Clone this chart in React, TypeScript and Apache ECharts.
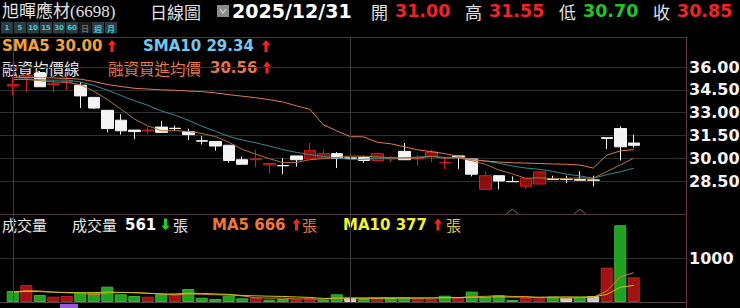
import React, { useEffect, useRef } from "react";
import * as echarts from "echarts";

// ---------- data ----------
const STOCK_NAME = "旭暉應材(6698)";
const PERIOD_LABEL = "日線圖";
const DATE_LABEL = "2025/12/31";
const PERIOD_BUTTONS = ["1", "5", "10", "15", "30", "60", "日", "週", "月"];
const ACTIVE_BUTTON = "日";

const DATES = [
  "2025/10/27", "2025/10/28", "2025/10/29", "2025/10/30", "2025/10/31",
  "2025/11/03", "2025/11/04", "2025/11/05", "2025/11/06", "2025/11/07",
  "2025/11/10", "2025/11/11", "2025/11/12", "2025/11/13", "2025/11/14",
  "2025/11/17", "2025/11/18", "2025/11/19", "2025/11/20", "2025/11/21",
  "2025/11/24", "2025/11/25", "2025/11/26", "2025/11/27", "2025/11/28",
  "2025/12/01", "2025/12/02", "2025/12/03", "2025/12/04", "2025/12/05",
  "2025/12/08", "2025/12/09", "2025/12/10", "2025/12/11", "2025/12/12",
  "2025/12/15", "2025/12/16", "2025/12/17", "2025/12/18", "2025/12/19",
  "2025/12/22", "2025/12/23", "2025/12/24", "2025/12/26", "2025/12/29",
  "2025/12/30", "2025/12/31",
];

const OPEN = [
  34.75, 35.3, 35.6, 34.85, 35.0, 34.8, 34.0, 33.15, 32.5, 31.85,
  31.8, 32.05, 31.97, 31.75, 31.15, 31.1, 30.85, 29.9, 29.9, 29.55,
  29.52, 30.15, 29.95, 30.0, 30.3, 30.02, 30.05, 29.85, 29.95, 30.45,
  29.95, 30.1, 29.7, 30.15, 29.95, 27.95, 28.85, 28.47, 28.15, 28.3,
  28.65, 28.62, 28.6, 28.57, 31.35, 31.95, 31.0,
];
const CLOSE = [
  34.85, 35.45, 34.7, 34.9, 35.05, 34.1, 33.3, 31.95, 31.8, 31.75,
  31.85, 31.7, 31.95, 31.55, 31.12, 30.8, 29.85, 29.6, 29.95, 29.65,
  29.5, 29.9, 30.5, 30.3, 30.0, 30.0, 29.85, 30.3, 30.0, 29.9,
  30.0, 30.4, 29.72, 30.1, 28.95, 28.85, 28.5, 28.45, 28.65, 29.1,
  28.6, 28.6, 28.55, 28.55, 31.3, 30.75, 30.85,
];
const LOW = [
  34.15, 34.35, 34.7, 34.35, 34.5, 33.3, 33.25, 31.7, 31.55, 31.25,
  31.6, 31.7, 31.8, 31.2, 30.9, 30.5, 29.7, 29.6, 29.4, 29.0,
  28.95, 29.45, 29.95, 30.0, 29.35, 29.75, 29.7, 29.8, 29.75, 29.9,
  29.5, 29.75, 29.3, 29.3, 28.8, 27.95, 27.95, 28.45, 28.0, 28.3,
  28.6, 28.35, 28.55, 28.15, 30.6, 29.85, 30.7,
];
const HIGH = [
  35.35, 35.6, 35.75, 35.15, 35.5, 35.0, 34.0, 33.15, 32.9, 31.85,
  32.05, 32.45, 32.15, 31.95, 31.45, 31.1, 30.85, 30.1, 30.55, 29.7,
  30.0, 30.15, 31.0, 30.55, 30.4, 30.15, 30.15, 30.35, 30.15, 31.0,
  30.2, 30.55, 30.1, 30.15, 29.95, 29.1, 28.85, 28.8, 28.65, 29.1,
  28.85, 28.85, 29.15, 28.85, 31.35, 32.1, 31.55,
];
// volume (張)
const VOLUME = [
  250, 386, 160, 120, 136, 197, 212, 348, 175, 136,
  120, 175, 190, 295, 98, 68, 143, 84, 90, 53,
  68, 60, 84, 53, 175, 90, 68, 98, 90, 106,
  84, 68, 143, 90, 235, 106, 152, 45, 90, 84,
  122, 98, 114, 130, 780, 1745, 561,
];
// 融資買進均價
const MARGIN_AVG = [
  35.32, 35.32, 35.3, 35.28, 35.25, 35.2, 35.05, 34.85, 34.72, 34.6,
  34.55, 34.5, 34.47, 34.42, 34.38, 34.3, 34.18, 34.08, 33.98, 33.85,
  33.7, 33.45, 33.22, 32.2, 31.8, 31.42, 31.4, 31.05, 30.95, 30.75,
  30.55, 30.43, 30.3, 30.12, 29.9, 29.82, 29.75, 29.7, 29.68, 29.65,
  29.62, 29.6, 29.55, 29.35, 30.2, 30.48, 30.56,
];
// estimated sessions before the visible window (feed the moving averages)
const PREV_CLOSES = [35.0, 35.3, 35.2, 34.9, 35.4, 35.5, 35.1, 35.3, 35.2];
const PREV_VOLUMES = [230, 210, 260, 190, 240, 220, 200, 250, 210];

const PRICE_MIN = 28.5;
const PRICE_MAX = 36;
const PRICE_STEP = 1.5;
const VOL_MIN = 0;
const VOL_MAX = 2000;
const VOL_STEP = 1000;
const VOL_LABELS = [1000];

const MONTH_LINES = [DATES[0], DATES[25]];
const EVENT_DATES = [DATES[37], DATES[42]];

// ---------- layout ----------
const W = 740;
const H = 308;
const MAIN_TOP = 37;
const MAIN_BOTTOM = 214;
const PRICE_MAX_Y = 67;
const PRICE_MIN_Y = 181;
const VOL_TOP = 214;
const VOL_BOTTOM = 302;
const AXIS_X = 687;
const PLOT_LEFT = 6;
const BAND = 13.5;

const C_RED_TXT = "#f02424";
const C_GREEN_TXT = "#22c822";
const C_WHITE = "#ececec";
const NUM_FONT = '"DejaVu Sans"';
const CJK_FONT = '"Noto Sans CJK TC"';

function movingAverage(prev: number[], vals: number[], n: number) {
  const all = prev.concat(vals);
  return vals.map((_, i) => {
    const end = prev.length + i;
    let s = 0;
    for (let k = end - n + 1; k <= end; k++) s += all[k];
    return s / n;
  });
}

function arrow(cx: number, top: number, up: boolean, color: string) {
  const h = 12, hw = 4, sw = 1.5, head = 5;
  const pts = up
    ? [[cx, top], [cx + hw, top + head], [cx + sw, top + head], [cx + sw, top + h], [cx - sw, top + h], [cx - sw, top + head], [cx - hw, top + head]]
    : [[cx, top + h], [cx + hw, top + h - head], [cx + sw, top + h - head], [cx + sw, top], [cx - sw, top], [cx - sw, top + h - head], [cx - hw, top + h - head]];
  return { type: "polygon", silent: true, shape: { points: pts }, style: { fill: color } };
}

function txt(x: number, y: number, text: string, fill: string, font: string, vAlign = "middle") {
  return {
    type: "text",
    x,
    y,
    silent: true,
    style: { text, fill, font, textAlign: "left", textVerticalAlign: vAlign },
  };
}

export default function App() {
  const ref = useRef<HTMLDivElement>(null);

  useEffect(() => {
    if (!ref.current) return;
    document.body.style.margin = "0";
    document.body.style.background = "#000";
    const chart = echarts.init(ref.current, undefined, { renderer: "svg" });

    const n = DATES.length;
    const last = n - 1;
    const sma5 = movingAverage(PREV_CLOSES, CLOSE, 5);
    const sma10 = movingAverage(PREV_CLOSES, CLOSE, 10);
    const vma5 = movingAverage(PREV_VOLUMES, VOLUME, 5);
    const vma10 = movingAverage(PREV_VOLUMES, VOLUME, 10);

    const prevCloseOf = (i: number) => (i === 0 ? PREV_CLOSES[PREV_CLOSES.length - 1] : CLOSE[i - 1]);
    const volColor = (i: number) => {
      const c = CLOSE[i], p = prevCloseOf(i);
      return c > p ? "#a21212" : c < p ? "#1fa21f" : "#c8c8c8";
    };
    const volBorder = (i: number) => {
      const c = CLOSE[i], p = prevCloseOf(i);
      return c > p ? "#c02020" : c < p ? "#34b834" : "#dcdcdc";
    };

    const ppu = (PRICE_MIN_Y - PRICE_MAX_Y) / (PRICE_MAX - PRICE_MIN);
    const yMaxB = PRICE_MAX + (PRICE_MAX_Y - MAIN_TOP) / ppu;
    const yMinB = PRICE_MIN - (MAIN_BOTTOM - PRICE_MIN_Y) / ppu;
    const plotWidth = BAND * n;

    const lastPrev = CLOSE[last - 1];
    const pxColor = (v: number) => (v > lastPrev ? C_RED_TXT : v < lastPrev ? C_GREEN_TXT : C_WHITE);
    const upDown = (arr: number[]) => arr[last] >= arr[last - 1];

    const vertLines = {
      silent: true,
      symbol: ["none", "none"],
      label: { show: false },
      lineStyle: { color: "#3c3c3c", type: "solid", width: 1 },
      emphasis: { disabled: true },
      data: MONTH_LINES.map((d) => ({ xAxis: d })),
    };

    const graphics: any[] = [];
    // header
    graphics.push(txt(2, 11, STOCK_NAME, "#e2e2e2", `17px "Liberation Serif", ${CJK_FONT}`));
    graphics.push(txt(150, 11, PERIOD_LABEL, "#e2e2e2", `17px ${CJK_FONT}`));
    graphics.push({ type: "rect", silent: true, shape: { x: 217, y: 5, width: 12, height: 12 }, style: { fill: "#8a8a8a" } });
    graphics.push({ type: "polyline", silent: true, shape: { points: [[220, 9], [223, 13], [226, 9]] }, style: { stroke: "#d8d8d8", lineWidth: 1.2, fill: null } });
    graphics.push(txt(232, 11, DATE_LABEL, "#ffffff", `bold 19px ${NUM_FONT}`));
    const ohlc: [string, number, number][] = [
      ["開", OPEN[last], 371],
      ["高", HIGH[last], 465],
      ["低", LOW[last], 559],
      ["收", CLOSE[last], 653],
    ];
    ohlc.forEach(([lab, v, x]) => {
      graphics.push(txt(x, 11, lab, "#e2e2e2", `17px ${CJK_FONT}`));
      graphics.push(txt(x + 24, 11, v.toFixed(2), pxColor(v), `bold 17.5px ${NUM_FONT}`));
    });
    // period buttons
    PERIOD_BUTTONS.forEach((b, i) => {
      const x = 1 + i * 13;
      const active = b === ACTIVE_BUTTON;
      graphics.push({ type: "rect", silent: true, shape: { x, y: 22, width: 12, height: 11.5 }, style: { fill: active ? "#1e1e1e" : "#2a3d42" } });
      graphics.push({
        type: "text", silent: true, x: x + 6, y: 28,
        style: {
          text: b, fill: active ? "#6a6a6a" : "#3ccacc",
          font: /\d/.test(b) ? `bold 7px ${NUM_FONT}` : `bold 8px ${CJK_FONT}`,
          textAlign: "center", textVerticalAlign: "middle",
        },
      });
    });
    // price legend
    const s5 = `SMA5 ${sma5[last].toFixed(2)}`;
    const s10 = `SMA10 ${sma10[last].toFixed(2)}`;
    graphics.push(txt(2, 46, s5, "#f0a232", `bold 15px ${NUM_FONT}`));
    graphics.push(arrow(112, 40, upDown(sma5), upDown(sma5) ? "#ff2020" : "#20d020"));
    graphics.push(txt(143, 46, s10, "#72c8f0", `bold 15px ${NUM_FONT}`));
    graphics.push(arrow(266, 40, upDown(sma10), upDown(sma10) ? "#ff2020" : "#20d020"));
    graphics.push(txt(2, 67.5, "融資均價線", "#e6e6e6", `15.5px ${CJK_FONT}`));
    graphics.push(txt(108, 67.5, "融資買進均價", "#e8784a", `15.5px ${CJK_FONT}`));
    graphics.push(txt(210, 67.5, MARGIN_AVG[last].toFixed(2), "#e8784a", `bold 15px ${NUM_FONT}`));
    graphics.push(arrow(267, 61.5, upDown(MARGIN_AVG), upDown(MARGIN_AVG) ? "#ff2020" : "#20d020"));
    // volume legend
    const vUp = VOLUME[last] >= VOLUME[last - 1];
    graphics.push(txt(2, 224.5, "成交量", "#e6e6e6", `15px ${CJK_FONT}`));
    graphics.push(txt(72, 224.5, "成交量", "#e6e6e6", `15px ${CJK_FONT}`));
    graphics.push(txt(125, 224.5, String(VOLUME[last]), "#ffffff", `bold 15px ${NUM_FONT}`));
    graphics.push(arrow(165.5, 218.5, vUp, vUp ? "#ff2020" : "#20d020"));
    graphics.push(txt(173, 224.5, "張", "#e6e6e6", `15px ${CJK_FONT}`));
    graphics.push(txt(212, 224.5, `MA5 ${Math.round(vma5[last])}`, "#f07a30", `bold 15px ${NUM_FONT}`));
    graphics.push(arrow(296.5, 218.5, upDown(vma5), upDown(vma5) ? "#ff2020" : "#20d020"));
    graphics.push(txt(302, 224.5, "張", "#e07a3a", `15px ${CJK_FONT}`));
    graphics.push(txt(343, 224.5, `MA10 ${Math.round(vma10[last])}`, "#f2f224", `bold 15px ${NUM_FONT}`));
    graphics.push(arrow(438, 218.5, upDown(vma10), upDown(vma10) ? "#ff2020" : "#20d020"));
    graphics.push(txt(446, 224.5, "張", "#d8c84a", `15px ${CJK_FONT}`));
    // swatch of the next panel's legend (clipped at page bottom)
    graphics.push({ type: "rect", silent: true, shape: { x: 60, y: 304, width: 18, height: 10 }, style: { fill: "#9a58d8" } });
    // borders
    const ln = (x1: number, y1: number, x2: number, y2: number, c: string) => ({
      type: "line", silent: true, shape: { x1, y1, x2, y2 }, style: { stroke: c, lineWidth: 1 }, z: 10,
    });
    graphics.push(ln(0, MAIN_TOP + 0.5, AXIS_X, MAIN_TOP + 0.5, "#5c2a38"));
    graphics.push(ln(0, VOL_TOP + 0.5, AXIS_X, VOL_TOP + 0.5, "#4e3440"));
    graphics.push(ln(0, VOL_BOTTOM + 0.5, AXIS_X, VOL_BOTTOM + 0.5, "#55454c"));
    graphics.push(ln(AXIS_X - 0.5, MAIN_TOP, AXIS_X - 0.5, H, "#6a3042"));

    const hiddenCat = (gi: number) => ({
      gridIndex: gi, type: "category", data: DATES, boundaryGap: true,
      axisLine: { show: false }, axisTick: { show: false }, axisLabel: { show: false }, splitLine: { show: false },
    });
    const hiddenVal = (gi: number) => ({ gridIndex: gi, type: "value", min: 0, max: 1, show: false, splitLine: { show: false } });

    const option: any = {
      animation: false,
      backgroundColor: "#000000",
      grid: [
        { left: 0, top: PRICE_MAX_Y, width: AXIS_X, height: PRICE_MIN_Y - PRICE_MAX_Y, outerBoundsMode: "none" },
        { left: PLOT_LEFT, top: MAIN_TOP, width: plotWidth, height: MAIN_BOTTOM - MAIN_TOP, outerBoundsMode: "none" },
        { left: 0, top: VOL_TOP, width: AXIS_X, height: VOL_BOTTOM - VOL_TOP, outerBoundsMode: "none" },
        { left: PLOT_LEFT, top: VOL_TOP, width: plotWidth, height: VOL_BOTTOM - VOL_TOP, outerBoundsMode: "none" },
      ],
      xAxis: [hiddenVal(0), hiddenCat(1), hiddenVal(2), hiddenCat(3)],
      yAxis: [
        {
          gridIndex: 0, type: "value", position: "right", min: PRICE_MIN, max: PRICE_MAX, interval: PRICE_STEP,
          axisLine: { show: false }, axisTick: { show: false },
          splitLine: { show: true, lineStyle: { color: "#2e2e2e", width: 1 } },
          axisLabel: {
            show: true, margin: 2, showMinLabel: true, showMaxLabel: true,
            color: "#f4f4f4", fontFamily: "DejaVu Sans", fontWeight: "bold", fontSize: 16,
            formatter: (v: number) => v.toFixed(2),
          },
        },
        { gridIndex: 1, type: "value", min: yMinB, max: yMaxB, show: false, splitLine: { show: false } },
        {
          gridIndex: 2, type: "value", position: "right", min: VOL_MIN, max: VOL_MAX, interval: VOL_STEP,
          axisLine: { show: false }, axisTick: { show: false },
          splitLine: { show: true, lineStyle: { color: "#2e2e2e", width: 1 } },
          axisLabel: {
            show: true, margin: 2, showMinLabel: true, showMaxLabel: true,
            color: "#f4f4f4", fontFamily: "DejaVu Sans", fontWeight: "bold", fontSize: 16,
            formatter: (v: number) => (VOL_LABELS.includes(v) ? String(v) : ""),
          },
        },
        { gridIndex: 3, type: "value", min: VOL_MIN, max: VOL_MAX, show: false, splitLine: { show: false } },
      ],
      series: [
        {
          type: "candlestick", name: "K", xAxisIndex: 1, yAxisIndex: 1, barWidth: 12,
          data: DATES.map((_, i) => [OPEN[i], CLOSE[i], LOW[i], HIGH[i]]),
          itemStyle: {
            color: "#8e0c0c", color0: "#f4f4f4", borderColor: "#d81a1a", borderColor0: "#f4f4f4",
            borderColorDoji: "#f4f4f4", borderWidth: 1,
          },
          markLine: vertLines,
          z: 2,
        },
        {
          type: "scatter", name: "event", xAxisIndex: 1, yAxisIndex: 1,
          symbol: "path://M0,10L10,0L20,10", symbolSize: [12, 5],
          itemStyle: { color: "transparent", borderColor: "#7c5a6a", borderWidth: 1 },
          data: EVENT_DATES.map((d) => [d, yMinB + 0.15]),
          z: 3,
        },
        {
          type: "line", name: "SMA10", xAxisIndex: 1, yAxisIndex: 1, data: sma10,
          symbol: "none", showSymbol: false, lineStyle: { color: "#2f8e92", width: 1 }, z: 4,
        },
        {
          type: "line", name: "SMA5", xAxisIndex: 1, yAxisIndex: 1, data: sma5,
          symbol: "none", showSymbol: false, lineStyle: { color: "#b07430", width: 1 }, z: 4,
        },
        {
          type: "line", name: "融資買進均價", xAxisIndex: 1, yAxisIndex: 1, data: MARGIN_AVG,
          symbol: "none", showSymbol: false, lineStyle: { color: "#e27a4c", width: 1 }, z: 4,
        },
        {
          type: "bar", name: "成交量", xAxisIndex: 3, yAxisIndex: 3, barWidth: 12,
          data: VOLUME.map((v, i) => ({ value: v, itemStyle: { color: volColor(i), borderColor: volBorder(i), borderWidth: 1 } })),
          markLine: vertLines,
          z: 2,
        },
        {
          type: "line", name: "MA5", xAxisIndex: 3, yAxisIndex: 3, data: vma5,
          symbol: "none", showSymbol: false, lineStyle: { color: "#d6801e", width: 1 }, z: 4,
        },
        {
          type: "line", name: "MA10", xAxisIndex: 3, yAxisIndex: 3, data: vma10,
          symbol: "none", showSymbol: false, lineStyle: { color: "#c8c41e", width: 1 }, z: 4,
        },
      ],
      graphic: { elements: graphics },
    };

    chart.setOption(option);
    return () => chart.dispose();
  }, []);

  return (
    <div
      ref={ref}
      style={{ position: "fixed", left: 0, top: 0, width: W, height: H, background: "#000" }}
    />
  );
}
